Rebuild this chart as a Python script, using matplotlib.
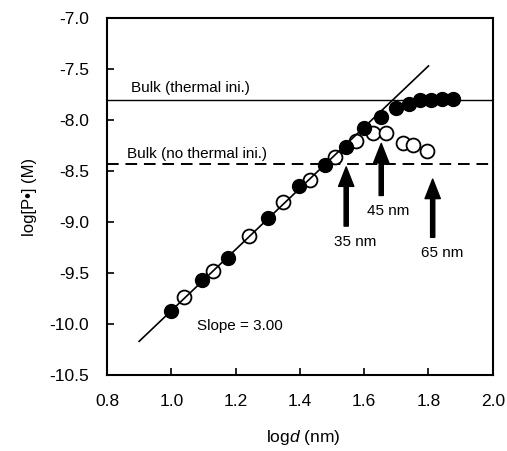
import numpy as np
import matplotlib.pyplot as plt

plt.rcParams['font.family'] = ['Liberation Sans', 'DejaVu Sans']
plt.rcParams['axes.unicode_minus'] = False
plt.rcParams['mathtext.fontset'] = 'custom'
plt.rcParams['mathtext.rm'] = 'Liberation Sans'
plt.rcParams['mathtext.it'] = 'Liberation Sans:italic'

# filled circles (thermal initiation)
logd_filled = [1.000, 1.094, 1.176, 1.301, 1.398, 1.478, 1.542, 1.600, 1.652, 1.698, 1.738, 1.774, 1.807, 1.841, 1.876]
logP_filled = [-9.87, -9.57, -9.35, -8.96, -8.65, -8.44, -8.26, -8.08, -7.97, -7.885, -7.84, -7.80, -7.80, -7.79, -7.79]

# open circles (no thermal initiation)
logd_open = [1.040, 1.130, 1.243, 1.348, 1.432, 1.510, 1.576, 1.627, 1.668, 1.720, 1.753, 1.795]
logP_open = [-9.74, -9.48, -9.14, -8.80, -8.59, -8.36, -8.21, -8.13, -8.13, -8.23, -8.25, -8.30]

# slope-3 fit line
fit_x = [0.90, 1.80]
slope = 3.00
intercept = -12.87

bulk_thermal = -7.80
bulk_nothermal = -8.43

# arrows: (x, tip y, tail y, label, label x, label y)
arrows = [
    (1.544, -8.46, -9.04, '35 nm', 1.573, -9.20),
    (1.653, -8.23, -8.74, '45 nm', 1.675, -8.89),
    (1.813, -8.58, -9.15, '65 nm', 1.843, -9.30),
]

fig = plt.figure(figsize=(5.07, 4.51), dpi=100)
ax = fig.add_axes([0.211, 0.1685, 0.761, 0.7916])

ax.axhline(bulk_thermal, color='black', lw=1.0, zorder=1)
ax.axhline(bulk_nothermal, color='black', lw=1.4, ls=(0, (6, 3.5)), zorder=1)

fx = np.array(fit_x)
ax.plot(fx, slope * fx + intercept, color='black', lw=1.2, zorder=3)

ax.plot(logd_open, logP_open, 'o', ms=10, mfc='white', mec='black', mew=1.3, zorder=2)
ax.plot(logd_filled, logP_filled, 'o', ms=10, mfc='black', mec='black', zorder=4)

for x, tip, tail, lab, lx, ly in arrows:
    ax.annotate('', xy=(x, tip), xytext=(x, tail),
                arrowprops=dict(facecolor='black', edgecolor='black', width=3,
                                headwidth=11, headlength=14, shrink=0))
    ax.text(lx, ly, lab, fontsize=11, ha='center', va='center')

ax.text(0.874, -7.69, 'Bulk (thermal ini.)', fontsize=11, va='center')
ax.text(0.863, -8.33, 'Bulk (no thermal ini.)', fontsize=11, va='center')
ax.text(1.079, -10.02, 'Slope = 3.00', fontsize=11, va='center')

ax.set_xlim(0.8, 2.0)
ax.set_ylim(-10.5, -7.0)
ax.set_xticks(np.arange(0.8, 2.01, 0.2))
ax.set_yticks(np.arange(-10.5, -6.99, 0.5))
ax.xaxis.set_major_formatter(plt.FormatStrFormatter('%.1f'))
ax.yaxis.set_major_formatter(plt.FormatStrFormatter('%.1f'))
ax.tick_params(direction='in', length=5, width=1.2, labelsize=12.5)
ax.tick_params(axis='x', pad=14)
ax.tick_params(axis='y', pad=13)
for s in ax.spines.values():
    s.set_linewidth(1.5)

ax.set_xlabel('log$\\it{d}$ (nm)', fontsize=12.5)
ax.set_ylabel('log[P•] (M)', fontsize=12)
ax.xaxis.set_label_coords(0.508, -0.148)
ax.yaxis.set_label_coords(-0.181, 0.5)

plt.savefig('out.png', dpi=100)
